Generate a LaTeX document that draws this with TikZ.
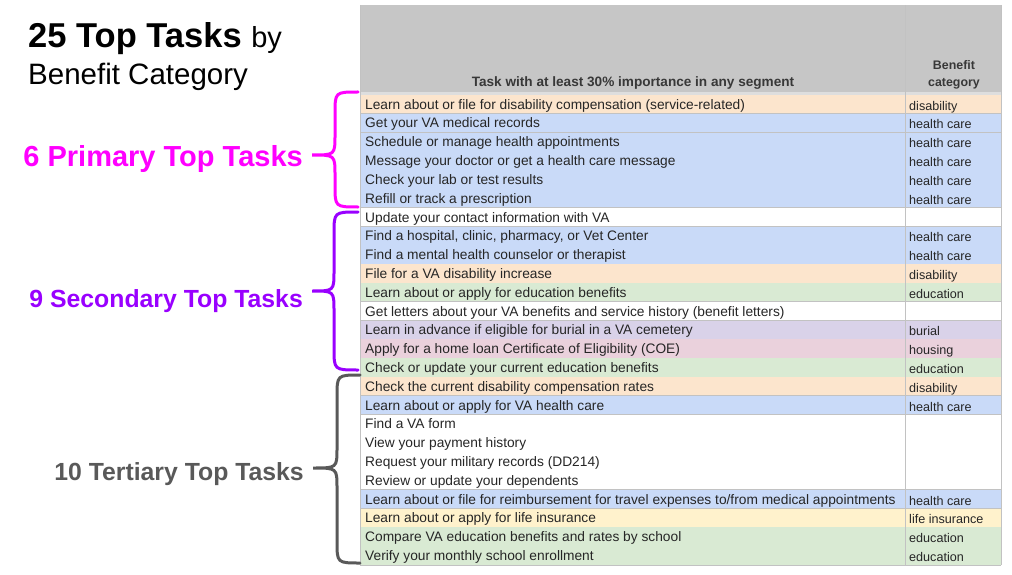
\documentclass[tikz,border=0pt]{standalone}
\usepackage{fontspec}
\setmainfont{Liberation Sans}
\usetikzlibrary{positioning}

\definecolor{hc}{HTML}{C9DAF8}
\definecolor{dis}{HTML}{FCE5CD}
\definecolor{edu}{HTML}{D9EAD3}
\definecolor{bur}{HTML}{D9D2E9}
\definecolor{hou}{HTML}{EAD1DC}
\definecolor{life}{HTML}{FFF2CC}
\definecolor{headgray}{HTML}{C6C6C6}
\definecolor{sepgray}{HTML}{DEDEDE}
\definecolor{linegray}{HTML}{C2C2C2}
\definecolor{inkgray}{HTML}{262626}
\definecolor{primcol}{HTML}{FF00FF}
\definecolor{secocol}{HTML}{9900FF}
\definecolor{tertcol}{HTML}{595959}

\tikzset{
  tasktext/.style={anchor=base west, inner sep=0pt, text=inkgray, font=\fontsize{13.75}{16}\selectfont},
  cattext/.style={anchor=base west, inner sep=0pt, text=inkgray, font=\fontsize{12.6}{15}\selectfont},
  headtext/.style={anchor=base, inner sep=0pt, text=black!78, font=\fontsize{12.4}{15}\selectfont\bfseries},
  grouplabel/.style={anchor=base east, inner sep=0pt, font=\fontsize{24.8}{30}\selectfont\bfseries},
  gridline/.style={draw=linegray, line width=0.7pt},
  curlybrace/.style={line width=3pt, line cap=round},
}

% #1 top, #2 tip, #3 bottom, #4 stem x, #5 tip x, #6 end x
\newcommand{\groupbrace}[6]{
  ({#6},{#1}) .. controls ({#4},{#1}) .. ({#4},{#1+22}) -- ({#4},{#2-20})
  .. controls ({#4},{#2}) .. ({#5},{#2})
  .. controls ({#4},{#2}) .. ({#4},{#2+20}) -- ({#4},{#3-22})
  .. controls ({#4},{#3}) .. ({#6},{#3})
}

\begin{document}
\begin{tikzpicture}[x=1pt, y=-1pt]
  \useasboundingbox (0,0) rectangle (1012,575);

  % title
  \node[anchor=base west, inner sep=0pt] (title) at (28,48)
    {\fontsize{34.5}{38}\selectfont\bfseries 25 Top Tasks \fontsize{29}{36}\selectfont\mdseries by};
  \node[anchor=base west, inner sep=0pt] (subtitle) at (28,85)
    {\fontsize{29.5}{36}\selectfont Benefit Category};

  % header of the sheet
  \fill[headgray] (360,5) rectangle (1001,92);
  \fill[sepgray] (360,92) rectangle (1001,95);
  \node[headtext, font=\fontsize{13.6}{15}\selectfont\bfseries] (taskhead) at (633,87) {Task with at least 30\% importance in any segment};
  \node[headtext] (cathead) at (954,70) {Benefit};
  \node[headtext] (cathead2) at (954,87) {category};

  % rows
  \foreach \task/\cat/\col [count=\i from 0] in {
    {Learn about or file for disability compensation (service-related)}/disability/dis,
    {Get your VA medical records}/health care/hc,
    {Schedule or manage health appointments}/health care/hc,
    {Message your doctor or get a health care message}/health care/hc,
    {Check your lab or test results}/health care/hc,
    {Refill or track a prescription}/health care/hc,
    {Update your contact information with VA}/{}/white,
    {Find a hospital, clinic, pharmacy, or Vet Center}/health care/hc,
    {Find a mental health counselor or therapist}/health care/hc,
    {File for a VA disability increase}/disability/dis,
    {Learn about or apply for education benefits}/education/edu,
    {Get letters about your VA benefits and service history (benefit letters)}/{}/white,
    {Learn in advance if eligible for burial in a VA cemetery}/burial/bur,
    {Apply for a home loan Certificate of Eligibility (COE)}/housing/hou,
    {Check or update your current education benefits}/education/edu,
    {Check the current disability compensation rates}/disability/dis,
    {Learn about or apply for VA health care}/health care/hc,
    {Find a VA form}/{}/white,
    {View your payment history}/{}/white,
    {Request your military records (DD214)}/{}/white,
    {Review or update your dependents}/{}/white,
    {Learn about or file for reimbursement for travel expenses to/from medical appointments}/health care/hc,
    {Learn about or apply for life insurance}/life insurance/life,
    {Compare VA education benefits and rates by school}/education/edu,
    {Verify your monthly school enrollment}/education/edu} {
    \pgfmathsetmacro\rowtop{95+18.8*\i}
    \fill[\col] (360,{\rowtop}) rectangle (1001,{\rowtop+18.8});
    \draw[gridline] (360,{\rowtop+18.8}) -- (1001,{\rowtop+18.8});
    \node[tasktext] (task\i) at (365,{\rowtop+14.2}) {\task};
    \node[cattext] (cat\i) at (909,{\rowtop+15.2}) {\cat};
  }

  % column lines
  \draw[gridline] (360,5) -- (360,565);
  \draw[gridline] (905,5) -- (905,565);
  \draw[gridline] (1001,5) -- (1001,565);

  % groups
  \draw[curlybrace, primcol] \groupbrace{92}{155}{207}{335}{312}{358};
  \node[grouplabel, text=primcol, font=\fontsize{29}{32}\selectfont\bfseries] (primary) at (303,166) {6 Primary Top Tasks};

  \draw[curlybrace, secocol] \groupbrace{212}{291}{370}{334}{312}{358};
  \node[grouplabel, text=secocol] (secondary) at (303,307) {9 Secondary Top Tasks};

  \draw[curlybrace, tertcol] \groupbrace{375}{468}{563}{337}{313}{360};
  \node[grouplabel, text=tertcol] (tertiary) at (304,480) {10 Tertiary Top Tasks};
\end{tikzpicture}
\end{document}
